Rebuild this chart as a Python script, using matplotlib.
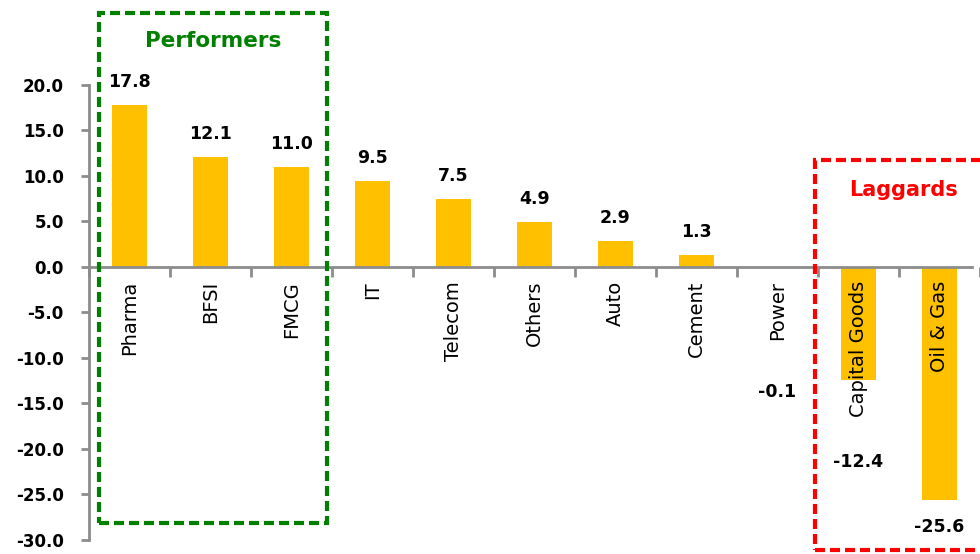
import matplotlib.pyplot as plt
from matplotlib.patches import Rectangle
from matplotlib.ticker import FixedLocator, FormatStrFormatter

plt.rcParams['font.family'] = ['DejaVu Sans']
plt.rcParams['axes.unicode_minus'] = False

sectors = ['Pharma', 'BFSI', 'FMCG', 'IT', 'Telecom', 'Others', 'Auto', 'Cement',
           'Power', 'Capital Goods', 'Oil & Gas']
returns = [17.8, 12.1, 11.0, 9.5, 7.5, 4.9, 2.9, 1.3, -0.1, -12.4, -25.6]
y_ticks = [20, 15, 10, 5, 0, -5, -10, -15, -20, -25, -30]

# label offsets (pixels) from the bar end, as placed in the original
label_off = [23, 23, 23, 23, 23, 23, 23, 23, -124, -82, -27]

bar_col = '#FFC000'
axis_col = '#8C8C8C'

fig = plt.figure(figsize=(9.8, 5.54), dpi=100)
ax = fig.add_axes([0, 0, 1, 1])
ax.set_xlim(-1.597, 10.40)
ax.set_ylim(-31.54, 29.34)
ax.set_axisbelow(False)

x = list(range(len(sectors)))
ax.bar(x, returns, width=0.43, color=bar_col, zorder=1)

for xi, v, off in zip(x, returns, label_off):
    ax.annotate(f'{v:.1f}', (xi, v), xytext=(0, off), textcoords='offset pixels',
                ha='center', va='center', fontsize=12.5, fontweight='bold',
                color='black')

for s in ['top', 'right']:
    ax.spines[s].set_visible(False)
ax.spines['left'].set_position(('data', -0.5))
ax.spines['left'].set_bounds(-30, 20)
ax.spines['bottom'].set_position(('data', 0))
ax.spines['bottom'].set_bounds(-0.5, 10.40)
for s in ['left', 'bottom']:
    ax.spines[s].set_color(axis_col)
    ax.spines[s].set_linewidth(2)

ax.yaxis.set_major_locator(FixedLocator(y_ticks))
ax.yaxis.set_major_formatter(FormatStrFormatter('%.1f'))
ax.tick_params(axis='y', length=6, width=2, color=axis_col, pad=12,
               labelsize=12)
for lab in ax.get_yticklabels():
    lab.set_fontweight('bold')

ax.set_xticks(x)
ax.set_xticklabels(sectors, rotation=90, va='top', ha='center', fontsize=14)
ax.set_xticks([i + 0.5 for i in range(-1, len(sectors))], minor=True)
ax.tick_params(axis='x', which='major', length=0, pad=10)
ax.tick_params(axis='x', which='minor', length=7, width=2, color=axis_col)

green = '#008000'
red = '#FF0000'
ax.add_patch(Rectangle((-0.373, -28.1), 2.81, 56.0, fill=False, edgecolor=green,
                       linewidth=3, linestyle=(0, (2.4, 1.2)), zorder=3, clip_on=False))
ax.text(1.035, 24.8, 'Performers', color=green, fontsize=15.5, fontweight='bold',
        ha='center', va='center')

ax.add_patch(Rectangle((8.46, -31.1), 3.0, 42.86, fill=False, edgecolor=red,
                       linewidth=3, linestyle=(0, (2.4, 1.2)), zorder=3, clip_on=True))
ax.text(9.55, 8.5, 'Laggards', color=red, fontsize=15, fontweight='bold',
        ha='center', va='center')

fig.savefig('out.png', dpi=100)
